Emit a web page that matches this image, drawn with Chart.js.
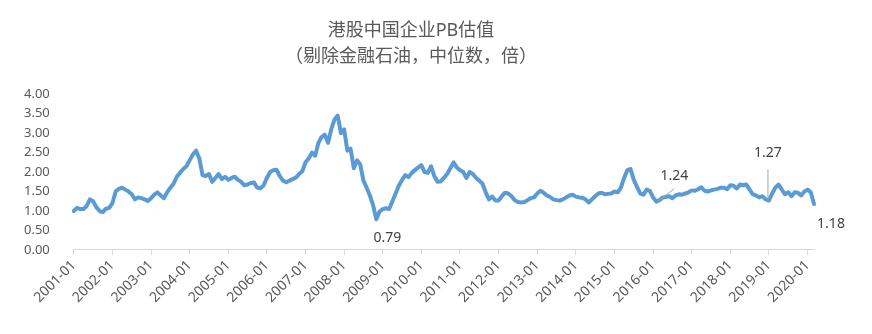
<!DOCTYPE html>
<html>
<head>
<meta charset="utf-8">
<script src="https://cdn.jsdelivr.net/npm/chart.js@4"></script>
<style>
  html, body { margin: 0; padding: 0; background: #fff; }
  #wrap { width: 872px; height: 334px; }
</style>
</head>
<body>
<div id="wrap"><canvas id="pb"></canvas></div>
<script>
// ------------ Données : PB médian mensuel, 2001-01 à 2020-03 ------------
const START_YEAR = 2001;
const PB = [
  1.00, 1.08, 1.05, 1.05, 1.13, 1.30, 1.25, 1.10, 1.00, 0.97, 1.06, 1.08, // 2001
  1.20, 1.50, 1.57, 1.60, 1.55, 1.50, 1.43, 1.30, 1.35, 1.33, 1.30, 1.26, // 2002
  1.33, 1.42, 1.48, 1.40, 1.33, 1.48, 1.60, 1.70, 1.88, 1.98, 2.08, 2.15, // 2003
  2.30, 2.45, 2.55, 2.35, 1.92, 1.90, 1.95, 1.75, 1.85, 1.95, 1.82, 1.88, // 2004
  1.80, 1.85, 1.88, 1.80, 1.75, 1.66, 1.68, 1.72, 1.73, 1.60, 1.58, 1.66, // 2005
  1.85, 2.00, 2.05, 2.06, 1.90, 1.78, 1.74, 1.78, 1.82, 1.86, 1.95, 2.02, // 2006
  2.25, 2.35, 2.50, 2.42, 2.75, 2.90, 2.96, 2.75, 3.10, 3.35, 3.45, 3.00, // 2007
  3.10, 2.55, 2.60, 2.10, 2.30, 2.20, 1.78, 1.60, 1.40, 1.15, 0.79, 0.98, // 2008
  1.05, 1.07, 1.05, 1.25, 1.45, 1.65, 1.80, 1.92, 1.87, 1.98, 2.05, 2.12, // 2009
  2.18, 2.00, 1.98, 2.15, 1.90, 1.75, 1.76, 1.85, 1.95, 2.10, 2.25, 2.12, // 2010
  2.05, 2.00, 1.85, 2.00, 1.95, 1.85, 1.78, 1.70, 1.48, 1.30, 1.37, 1.27, // 2011
  1.27, 1.38, 1.47, 1.45, 1.38, 1.28, 1.23, 1.22, 1.23, 1.28, 1.33, 1.35, // 2012
  1.45, 1.52, 1.47, 1.40, 1.36, 1.30, 1.28, 1.27, 1.30, 1.35, 1.40, 1.42, // 2013
  1.37, 1.35, 1.34, 1.30, 1.22, 1.30, 1.38, 1.45, 1.47, 1.43, 1.44, 1.45, // 2014
  1.50, 1.48, 1.60, 1.85, 2.05, 2.08, 1.80, 1.62, 1.45, 1.42, 1.55, 1.52, // 2015
  1.35, 1.24, 1.28, 1.35, 1.36, 1.38, 1.33, 1.40, 1.43, 1.42, 1.45, 1.48, // 2016
  1.53, 1.52, 1.56, 1.61, 1.52, 1.50, 1.53, 1.55, 1.57, 1.60, 1.60, 1.56, // 2017
  1.66, 1.65, 1.58, 1.68, 1.66, 1.68, 1.55, 1.43, 1.40, 1.35, 1.38, 1.30, // 2018
  1.27, 1.45, 1.60, 1.68, 1.55, 1.43, 1.48, 1.38, 1.48, 1.47, 1.40, 1.50, // 2019
  1.55, 1.48, 1.18                                                        // 2020
];
const MONTHS = PB.map((_, i) => {
  const y = START_YEAR + Math.floor(i / 12);
  const m = (i % 12) + 1;
  return y + "-" + String(m).padStart(2, "0");
});
const Y_TICKS = [0, 0.5, 1, 1.5, 2, 2.5, 3, 3.5, 4];

// Points annotés : index, décalage du texte, trait de rappel éventuel
const NOTES = [
  { idx: MONTHS.indexOf("2008-11"), dx: 11, dy: 19 },
  { idx: MONTHS.indexOf("2016-02"), dx: 18, dy: -26, leader: [2, -1, 18, -13] },
  { idx: MONTHS.indexOf("2019-01"), dx: -1, dy: -47, leader: [-1, -1, -1, -31] },
  { idx: MONTHS.indexOf("2020-03"), dx: 17, dy: 20 }
];

const FONT = '"Noto Sans", "Noto Sans CJK SC", sans-serif';

const notesPlugin = {
  id: "notes",
  afterDatasetsDraw(chart) {
    const ctx = chart.ctx;
    const pts = chart.getDatasetMeta(0).data;
    ctx.save();
    NOTES.forEach(n => {
      const p = pts[n.idx];
      if (!p) return;
      if (n.leader) {
        const [x1, y1, x2, y2] = n.leader;
        ctx.strokeStyle = "#a6a6a6";
        ctx.lineWidth = 1;
        ctx.beginPath();
        ctx.moveTo(p.x + x1, p.y + y1);
        ctx.lineTo(p.x + x2, p.y + y2);
        ctx.stroke();
      }
      ctx.fillStyle = "#404040";
      ctx.font = "14px " + FONT;
      ctx.textAlign = "center";
      ctx.textBaseline = "middle";
      ctx.fillText(PB[n.idx].toFixed(2), p.x + n.dx, p.y + n.dy);
    });
    ctx.restore();
  }
};

document.addEventListener("DOMContentLoaded", () => {
  const ctx = document.getElementById("pb").getContext("2d");
  new Chart(ctx, {
    type: "line",
    data: {
      labels: MONTHS,
      datasets: [{
        data: PB,
        borderColor: "#5b9bd5",
        borderWidth: 4,
        pointRadius: 0,
        tension: 0,
        borderJoinStyle: "round",
        borderCapStyle: "round"
      }]
    },
    options: {
      responsive: true,
      maintainAspectRatio: false,
      animation: false,
      layout: { padding: { left: 8, right: 58, top: 4, bottom: 26 } },
      plugins: {
        legend: { display: false },
        tooltip: { enabled: false },
        title: {
          display: true,
          text: ["港股中国企业PB估值", "（剔除金融石油，中位数，倍）"],
          color: "#595959",
          font: { family: FONT, size: 18, weight: "normal", lineHeight: 1.45 },
          padding: { top: 14, bottom: 24 }
        }
      },
      scales: {
        x: {
          offset: false,
          grid: {
            display: true,
            drawOnChartArea: false,
            drawTicks: true,
            tickLength: 5,
            color: "#d9d9d9"
          },
          border: { display: true, color: "#d9d9d9", width: 1 },
          ticks: {
            autoSkip: false,
            maxRotation: 45,
            minRotation: 45,
            color: "#595959",
            padding: 2,
            font: { family: FONT, size: 14 },
            callback: function (v, i) {
              const lab = MONTHS[i];
              return lab.endsWith("-01") ? lab : null;
            }
          }
        },
        y: {
          min: 0,
          max: 4,
          afterBuildTicks: axis => { axis.ticks = Y_TICKS.map(v => ({ value: v })); },
          grid: { display: false },
          border: { display: false },
          ticks: {
            autoSkip: false,
            color: "#595959",
            padding: 16,
            font: { family: FONT, size: 13 },
            callback: v => v.toFixed(2)
          }
        }
      }
    },
    plugins: [notesPlugin]
  });
});
</script>
</body>
</html>
